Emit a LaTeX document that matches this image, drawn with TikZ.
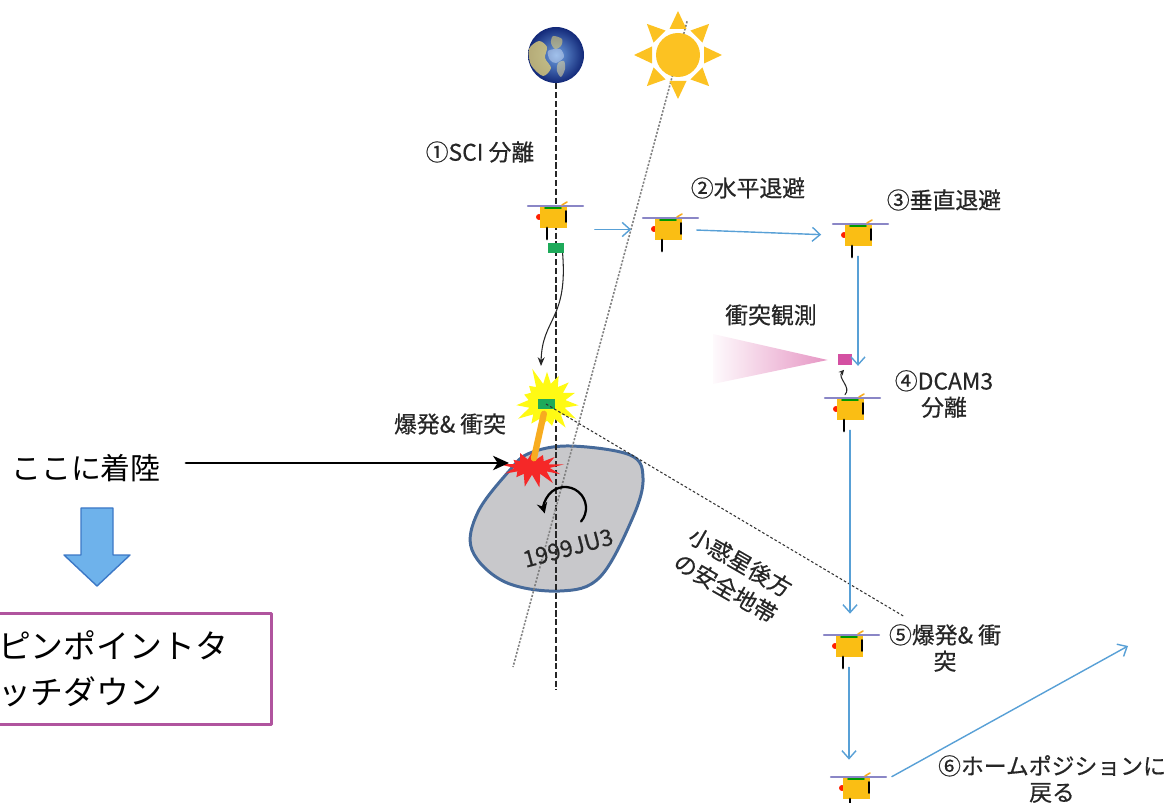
\documentclass[tikz,border=0pt]{standalone}
\usepackage{fontspec}
\newfontfamily\jpfont{Noto Sans CJK JP}
\newfontfamily\jplabel{Noto Sans CJK JP}[FakeBold=0.5]
\usetikzlibrary{arrows.meta,calc,shapes.symbols}

\definecolor{flowblue}{RGB}{88,160,214}
\definecolor{panelc}{RGB}{138,134,198}
\definecolor{bodyc}{RGB}{250,190,20}
\definecolor{sunc}{RGB}{252,194,34}
\definecolor{rockc}{RGB}{200,200,203}
\definecolor{rimc}{RGB}{70,106,154}
\definecolor{framec}{RGB}{176,84,158}
\definecolor{camc}{RGB}{212,80,162}
\definecolor{conec}{RGB}{230,150,196}
\definecolor{scigreen}{RGB}{30,170,90}
\definecolor{blastc}{RGB}{255,250,20}
\definecolor{craterc}{RGB}{245,40,40}
\definecolor{jetc}{RGB}{247,172,32}
\definecolor{bigarrowc}{RGB}{110,178,235}
\definecolor{bigrimc}{RGB}{60,120,198}
\definecolor{seac}{RGB}{18,40,120}
\definecolor{skyc}{RGB}{110,160,225}
\definecolor{landc}{RGB}{222,204,120}

\tikzset{
  craft/.pic={
    \fill[red!75!orange] (-16,11) circle (3);
    \node[fill=bodyc,minimum width=0.54cm,minimum height=0.42cm,inner sep=0pt] (-body) at (-2,11.5) {};
    \draw[panelc,line width=1.4pt] (-27,0) -- (28,0);
    \draw[green!60!black,line width=0.9pt] (-10,2) -- (6,2);
    \draw[jetc,line width=0.9pt] (7,-1) -- (12,-4);
    \draw[line width=0.9pt] (11,5) -- (11,16);
    \draw[line width=1.6pt] (-8,22) -- (-8,33);
  }
}

\begin{document}
\begin{tikzpicture}[x=0.02cm,y=-0.02cm,line cap=round,line join=round,
  >={Straight Barb[length=4.5pt,width=8pt]},
  flow/.style={->,flowblue,line width=0.8pt},
  lbl/.style={font=\jplabel\fontsize{13}{15}\selectfont,text=black!85,inner sep=0pt,align=center},
  earthline/.style={black!85,line width=0.7pt,line cap=butt,dash pattern=on 3.5pt off 1.5pt},
  sunline/.style={black!50,line width=0.9pt,line cap=butt,dash pattern=on 1.2pt off 0.9pt},
  safeline/.style={black!80,line width=0.6pt,line cap=butt,dash pattern=on 1.5pt off 1.2pt}]
\useasboundingbox (0,0) rectangle (1166,803);

\fill[rockc,draw=rimc,line width=1.7pt] plot[smooth cycle,tension=0.6] coordinates
  {(530,453) (570,446) (630,455) (643,478) (633,517) (600,577) (560,591) (505,582) (472,550) (478,512) (510,470)};

\node[circle,minimum size=1.12cm,inner sep=0pt,inner color=skyc,outer color=seac] (earth) at (556,55) {};
\begin{scope}[shift={(earth.center)}]
\clip (0,0) circle (28);
\fill[landc,opacity=0.8] plot[smooth cycle] coordinates {(-27,-6) (-17,-14) (-9,-8) (-11,3) (-5,13) (-13,21) (-25,10)};
\fill[landc,opacity=0.6] plot[smooth cycle] coordinates {(-3,-19) (6,-16) (5,-9) (-1,-6) (-5,-12)};
\fill[white,opacity=0.35] plot[smooth cycle] coordinates {(-8,-4) (4,-6) (8,2) (0,8) (-6,5)};
\fill[landc!70!white,opacity=0.55] plot[smooth cycle] coordinates {(2,8) (8,6) (9,14) (5,22) (1,16)};
\end{scope}

\coordinate (earthend) at (556,690);
\coordinate (sun) at (678,55);
\coordinate (sunend) at (513,667);
\coordinate (safeend) at (905,617);
\coordinate (home) at (1128,646);
\coordinate (spin) at (565,508);
\coordinate (hit) at (541,366);

\draw[earthline] (earth.south) -- (earthend);
\draw[sunline] ($(sun)!-0.055!(sunend)$) -- (sunend);
\fill[sunc] (sun) circle (22);
\foreach \a in {0,45,...,315}
  \fill[sunc] ($(sun)+(\a:26)+({\a+90}:8.5)$) -- ($(sun)+(\a:44)$) -- ($(sun)+(\a:26)+({\a-90}:8.5)$) -- cycle;

\draw[line width=1.3pt,-{Stealth[length=6pt,width=6pt]}] ($(spin)+(40:21)$) arc[start angle=40,end angle=-195,radius=21];
\node[lbl,rotate=15] (rockl) at (568,548) {1999JU3};

\node[starburst,fill=craterc,starburst points=13,starburst point height=0.32cm,random starburst=42,minimum width=1.35cm,minimum height=0.95cm,inner sep=0pt] (crater) at (532,467) {};
\node[starburst,fill=blastc,starburst points=15,starburst point height=0.38cm,random starburst=5,minimum size=1.5cm,inner sep=0pt] (blast) at (547,402) {};
\coordinate (sciimpact) at (546,404);
\draw[jetc,line width=3.6pt,shorten <=0.2cm,shorten >=0.18cm] (sciimpact) -- (crater.center);
\node[fill=scigreen,minimum width=0.34cm,minimum height=0.2cm,inner sep=0pt] (sciblast) at (sciimpact) {};
\draw[safeline] (sciblast.center) -- (safeend);

\pic (sc1) at (555,206) {craft};
\pic (sc2) at (670,218) {craft};
\pic (sc3) at (860,224) {craft};
\pic (sc4) at (852,398) {craft};
\pic (sc5) at (851,635) {craft};
\pic (sc6) at (858,777) {craft};

\node[fill=scigreen,minimum width=0.32cm,minimum height=0.2cm,inner sep=0pt] (sci) at (556,248) {};
\draw[black!85,line width=0.6pt,-{Stealth[length=5pt,width=4pt]}] ([xshift=-1pt]sci.south east) .. controls (568,320) and (542,318) .. (hit);

\node[fill=camc,minimum width=0.28cm,minimum height=0.22cm,inner sep=0pt] (dcam) at (845,360) {};
\shade[left color=conec!5,right color=conec] (713,334) -- ([xshift=-0.2cm]dcam.west) -- (713,384) -- cycle;
\draw[black!85,line width=0.6pt,-{Stealth[length=3pt,width=3pt]}] ($(sc4-body.north)+(-5,-4)$) .. controls +(7,-7) and +(-7,8) .. ($(dcam.south)+(-1,4)$);

\draw[flow,shorten <=0.56cm,shorten >=0.46cm] (sc1-body.east |- sc2-body.west) -- (sc2-body.west);
\draw[flow,shorten <=0.3cm,shorten >=0.46cm] (sc2-body.east) -- (sc3-body.west);
\draw[flow,shorten <=0.2cm] (sc3-body.south) -- (sc3-body.south |- dcam.south);
\draw[flow,shorten <=0.2cm,shorten >=0.44cm] (sc4-body.south) -- (sc4-body.south |- sc5-body.north);
\draw[flow,shorten <=0.2cm,shorten >=0.36cm] (sc5-body.south) -- (sc5-body.south |- sc6-body.north);
\draw[flow] ($(sc6-body.north east)+(22,-1)$) -- (home);

\node[lbl] (sepl) at (480,152) {①SCI 分離};
\node[lbl] (horl) at (748,188) {②水平退避};
\node[lbl] (verl) at (944,200) {③垂直退避};
\node[lbl] (obsl) at (771,315) {衝突観測};
\node[lbl] (dcaml) at (944,394) {④DCAM3\\分離};
\node[lbl] (impl) at (450,424) {爆発\& 衝突};
\node[lbl] (fivel) at (945,648) {⑤爆発\& 衝\\突};
\node[lbl] (homel) at (1052,779) {⑥ホームポジションに\\戻る};
\node[lbl,rotate=-30,font=\jplabel\fontsize{13}{17}\selectfont] (safel) at (733,575) {小惑星後方\\の安全地帯};

\node[font=\jpfont\fontsize{17}{20}\selectfont,inner sep=0pt] (landing) at (86,468) {ここに着陸};
\draw[line width=1.7pt,-{Stealth[length=9pt,width=8pt,inset=2.5pt]},shorten <=0.5cm] ([yshift=0.1cm]landing.east) -- ([yshift=0.1cm]landing.east -| crater.west);
\coordinate (down) at (97,508);
\filldraw[fill=bigarrowc,draw=bigrimc,line width=0.8pt] ($(down)+(-16,0)$) -- ++(32,0) -- ++(0,47) -- ++(17,0) -- ($(down)+(0,78)$) -- ($(down)+(-33,47)$) -- ++(17,0) -- cycle;
\node[draw=framec,line width=1.7pt,minimum height=2.24cm,text width=5.12cm,inner xsep=0.36cm,align=left,font=\jpfont\fontsize{18.7}{26}\selectfont] (touch) at (126,669) {ピンポイントタ\\ッチダウン};
\end{tikzpicture}
\end{document}
